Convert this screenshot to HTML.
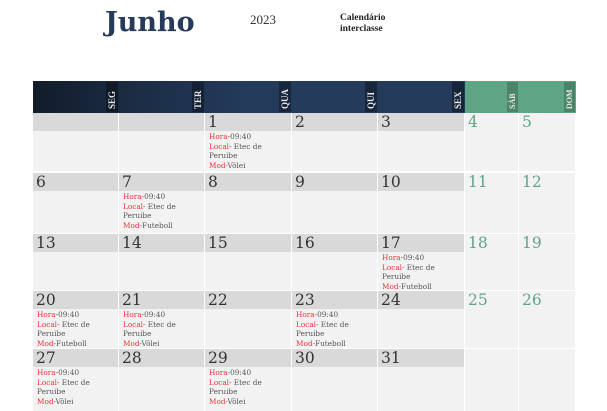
<!DOCTYPE html>
<html><head><meta charset="utf-8"><style>
body{margin:0;width:607px;height:411px;overflow:hidden;background:#fff;font-family:"Liberation Serif",serif;position:relative}
.a{position:absolute}
.ev{font-size:7.3px;line-height:9.5px;color:#555;font-family:"DejaVu Serif",serif;white-space:nowrap}
.ev b{color:#f0303a;font-weight:normal}
.num{font-size:15.5px;color:#333;font-family:"DejaVu Serif",serif}
.hl{writing-mode:vertical-rl;transform:rotate(180deg);font-weight:bold;font-size:9px;color:#e8e8e8;text-align:left;padding:3px 1px}
</style></head><body>
<div class="a" style="left:105px;top:7px;font-size:27px;font-weight:bold;color:#263a5a;font-family:'DejaVu Serif',serif">Junho</div>
<div class="a" style="left:250px;top:12px;font-size:13px;color:#333">2023</div>
<div class="a" style="left:340px;top:13px;font-size:9.5px;font-weight:bold;line-height:11px;color:#222">Calendário<br>interclasse</div>
<div class="a" style="left:33px;top:81px;width:432px;height:32px;background:linear-gradient(90deg,#121c2a,#1c2d46 25%,#243b5b 50%,#243b5b)"></div>
<div class="a" style="left:465px;top:81px;width:111px;height:32px;background:#5fa585"></div>
<div id="grid"></div>
<script>
const cols=[33,119,205,292,378,465,519,576];
const rows=[113,173,234,291,349];
const rowEnd=[171,233,290,348,411];
const heads=["SEG","TER","QUA","QUI","SEX","SÁB","DOM"];
const days=[[null,null,1,2,3,4,5],[6,7,8,9,10,11,12],[13,14,15,16,17,18,19],[20,21,22,23,24,25,26],[27,28,29,30,31,null,null]];
const events={1:"Vôlei",7:"Futeboll",17:"Futeboll",20:"Futeboll",21:"Vôlei",23:"Futeboll",27:"Vôlei",29:"Vôlei"};
const g=document.getElementById('grid');
heads.forEach((h,i)=>{
 const d=document.createElement('div');d.className='a hl';
 
 
 d.textContent=h;
 d.style.top='82px';d.style.right=(607-cols[i+1]+1)+'px';d.style.height='24px';
 d.style.background=i<5?'rgba(0,0,0,0.35)':'rgba(0,0,0,0.2)';
 d.style.fontSize=i<5?'9px':'8px';
 g.appendChild(d);
});
days.forEach((row,r)=>{
 row.forEach((day,c)=>{
  const x=cols[c],w=cols[c+1]-cols[c]-1,y=rows[r],h=rowEnd[r]-rows[r];
  const wk=c>=5;
  const cell=document.createElement('div');cell.className='a';
  
  
  cell.style.cssText=`left:${x}px;top:${y}px;width:${w}px;height:${h}px;background:#f2f2f2`;
  if(!wk){const b=document.createElement('div');b.className='a';
   
   
   b.style.cssText=`left:0;top:0;width:${w}px;height:18px;background:#d9d9d9`;cell.appendChild(b);}
  if(day){
   const n=document.createElement('div');n.className='a num';
   
   
   n.textContent=day;n.style.left='3px';n.style.top='0px';
   if(wk)n.style.color='#5fa585';
   cell.appendChild(n);
   if(events[day]){const e=document.createElement('div');e.className='a ev';
    
    
    e.style.left='4px';e.style.top='19px';
    e.innerHTML='<b>Hora</b>-09:40<br><b>Local</b>- Etec de<br>Peruibe<br><b>Mod</b>-'+events[day];
    cell.appendChild(e);}
  }
  g.appendChild(cell);
 });
});
</script>
</body></html>
